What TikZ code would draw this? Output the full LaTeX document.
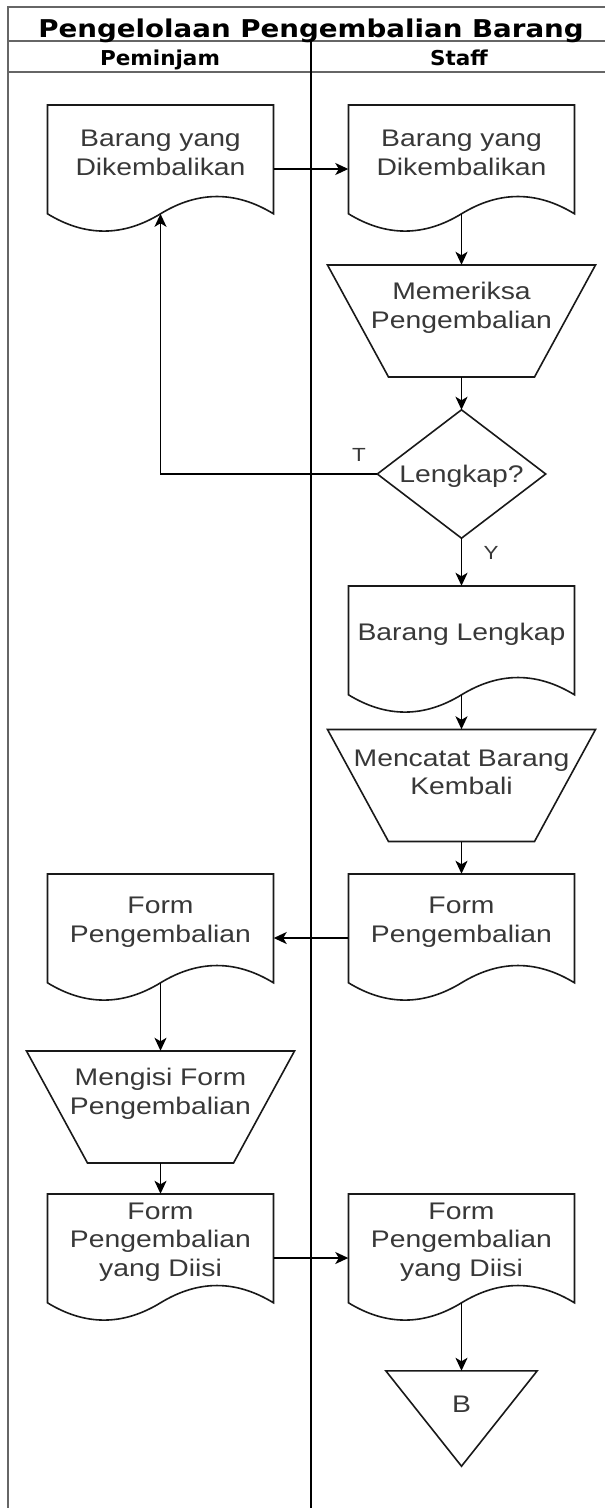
\documentclass[tikz,border=0pt]{standalone}
\usepackage{fontspec}
\setmainfont{Liberation Sans}[FakeStretch=1.18]
\newfontfamily\titlefam{DejaVu Sans}[FakeStretch=1.13]
\newfontfamily\headfam{DejaVu Sans}[FakeStretch=1.05]
\usetikzlibrary{arrows.meta,calc}
\newcommand\mkdoc[4]{%
  \node[anchorbox, minimum width=226pt, minimum height=128pt] (#1) at (#2,{#3+64}) {};
  \path[outline] ({#2-113},#3) -- ({#2+113},#3) -- ({#2+113},{#3+108.8})
    .. controls ({#2+75.33},{#3+85.76}) and ({#2+37.67},{#3+85.76}) .. (#2,{#3+108.8})
    .. controls ({#2-37.67},{#3+131.84}) and ({#2-75.33},{#3+131.84}) .. ({#2-113},{#3+108.8}) -- cycle;
  \node[lbl] (#1-t) at (#2,{#3+48}) {#4};
  \coordinate (#1-b) at (#2,{#3+108.8});
}
\newcommand\mktrap[4]{%
  \node[anchorbox, minimum width=268pt, minimum height=112pt] (#1) at (#2,{#3+56}) {};
  \path[outline] ({#2-134},#3) -- ({#2+134},#3) -- ({#2+73},{#3+112}) -- ({#2-73},{#3+112}) -- cycle;
  \node[lbl] (#1-t) at (#2,{#3+43}) {#4};
}
\begin{document}
\begin{tikzpicture}[x=1pt,y=-1pt,
  frame/.style={draw=black!60, line width=2.2pt},
  divider/.style={draw=black, line width=1.6pt},
  outline/.style={draw=black!90, line width=1.6pt, fill=white},
  anchorbox/.style={draw=none, inner sep=0pt},
  lbl/.style={font=\fontsize{24}{28.5}\selectfont, align=center, inner sep=0pt, text=black!78},
  edgelbl/.style={font=\fontsize{19}{22}\selectfont, inner sep=0pt, text=black!78},
  headfont/.style={font=\headfam\bfseries\fontsize{20.5}{22}\selectfont, anchor=base, inner sep=0pt},
  flow/.style={draw=black, line width=1.6pt, -{Stealth[length=13pt,width=12pt,inset=3.5pt]}},
]
\fill[white] (0,0) rectangle (605,1508);
\useasboundingbox (0,0) rectangle (605,1508);

% frame
\draw[frame] (8,1508) -- (8,7) -- (605,7);
\draw[frame] (8,41) -- (605,41);
\draw[frame] (8,72) -- (605,72);
\draw[divider] (311,41) -- (311,1508);

\node[anchor=base, font=\titlefam\bfseries\fontsize{24.5}{27}\selectfont, inner sep=0pt] (title) at (311,37.5) {Pengelolaan Pengembalian Barang};
\node[headfont] (h1) at (160,65.5) {Peminjam};
\node[headfont] (h2) at (459,65.5) {Staff};

% shapes
\mkdoc{d1}{160.5}{105}{Barang yang\\Dikembalikan}
\mkdoc{d2}{461.5}{105}{Barang yang\\Dikembalikan}
\mktrap{t1}{461.5}{265}{Memeriksa\\Pengembalian}

\node[anchorbox, minimum width=168pt, minimum height=128pt] (dia) at (461.5,474) {};
\path[outline] (dia.north) -- (dia.east) -- (dia.south) -- (dia.west) -- cycle;
\node[lbl] (dia-t) at (461.5,476) {Lengkap?};

\mkdoc{d3}{461.5}{586}{Barang Lengkap}
\mktrap{t2}{461.5}{729.5}{Mencatat Barang\\Kembali}
\mkdoc{d4}{461.5}{874}{Form\\Pengembalian}
\mkdoc{d5}{160.5}{874}{Form\\Pengembalian}
\mktrap{t3}{160.5}{1051}{Mengisi Form\\Pengembalian}
\mkdoc{d6}{160.5}{1194}{Form\\Pengembalian\\yang Diisi}
\mkdoc{d7}{461.5}{1194}{Form\\Pengembalian\\yang Diisi}

\node[anchorbox, minimum width=151pt, minimum height=95pt] (tri) at (461.5,1418.5) {};
\path[outline] (tri.north west) -- (tri.north east) -- (tri.south) -- cycle;
\node[lbl] (tri-t) at (461.5,1404) {B};

% connectors
\draw[flow] (d1.east) -- (d2.west);
\draw[flow] (d2-b) -- (t1.north);
\draw[flow] (t1.south) -- (dia.north);
\draw[flow] (dia.west) -| (d1-b);
\draw[flow] (dia.south) -- (d3.north);
\draw[flow] (d3-b) -- (t2.north);
\draw[flow] (t2.south) -- (d4.north);
\draw[flow] (d4.west) -- (d5.east);
\draw[flow] (d5-b) -- (t3.north);
\draw[flow] (t3.south) -- (d6.north);
\draw[flow] (d6.east) -- (d7.west);
\draw[flow] (d7-b) -- (tri.north);

\node[edgelbl] (lT) at (359,455) {T};
\node[edgelbl] (lY) at (491,553) {Y};
\end{tikzpicture}
\end{document}
